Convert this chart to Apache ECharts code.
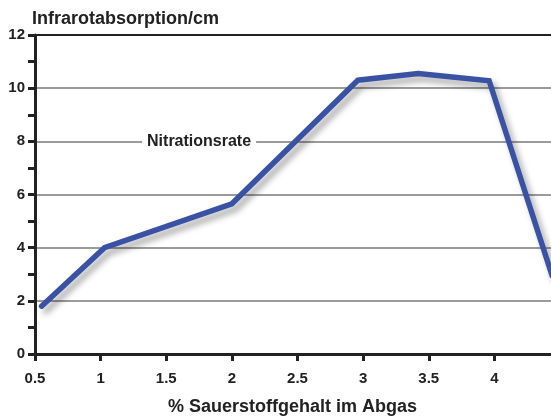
<!DOCTYPE html>
<html>
<head>
<meta charset="utf-8">
<script src="https://cdn.jsdelivr.net/npm/echarts@6/dist/echarts.min.js"></script>
<style>
  html, body { margin: 0; padding: 0; background: #fff; }
  #chart { width: 551px; height: 419px; }
</style>
</head>
<body>
<div id="chart"></div>
<script>
// Sauerstoffgehalt (%) vs. Infrarotabsorption
const oxygen = [0.55, 1.03, 2.0, 2.96, 3.42, 3.96, 4.44]
const absorption = [1.8, 4.0, 5.65, 10.3, 10.55, 10.28, 2.95]
const seriesName = 'Nitrationsrate'
const yTitle = 'Infrarotabsorption/cm'
const xTitle = '% Sauerstoffgehalt im Abgas'

const font = 'Liberation Sans, Arial, Helvetica, sans-serif'
const axisColor = '#222'

const chart = echarts.init(document.getElementById('chart'))

chart.setOption({
  backgroundColor: '#fff',
  animation: false,
  grid: {
    left: 35,
    top: 35,
    bottom: 65,
    width: 525,
    outerBoundsMode: 'none'
  },
  xAxis: [
    {
      type: 'value',
      min: 0.5,
      max: 4.5,
      interval: 0.5,
      name: xTitle,
      nameLocation: 'middle',
      nameGap: 44,
      nameTextStyle: { fontFamily: font, fontSize: 18, fontWeight: 'bold', color: '#222', padding: [0, 0, 0, -10] },
      axisLine: { lineStyle: { color: axisColor, width: 3 } },
      axisTick: { inside: false, length: 7, lineStyle: { color: axisColor, width: 3 } },
      axisLabel: {
        margin: 17,
        fontFamily: font,
        fontSize: 15,
        fontWeight: 'bold',
        color: '#222',
        showMaxLabel: false,
        formatter: v => (v >= 4.49 ? '' : String(v))
      },
      splitLine: { show: false }
    },
    {
      type: 'value',
      position: 'top',
      min: 0.5,
      max: 4.5,
      axisLine: { show: true, lineStyle: { color: axisColor, width: 2 } },
      axisTick: { show: false },
      axisLabel: { show: false },
      splitLine: { show: false }
    }
  ],
  yAxis: {
    type: 'value',
    min: 0,
    max: 12,
    interval: 2,
    name: yTitle,
    nameLocation: 'end',
    nameGap: 7,
    nameTextStyle: { fontFamily: font, fontSize: 18, fontWeight: 'bold', color: '#222', align: 'left', padding: [0, 0, 0, -3] },
    axisLine: { show: true, lineStyle: { color: axisColor, width: 3 } },
    axisTick: { length: 7, lineStyle: { color: axisColor, width: 3 } },
    minorTick: { show: true, splitNumber: 2, length: 7, lineStyle: { color: axisColor, width: 3 } },
    axisLabel: { margin: 10, fontFamily: font, fontSize: 15, fontWeight: 'bold', color: '#222' },
    splitLine: { lineStyle: { color: '#7a7a7a', width: 1.5 } }
  },
  series: [
    {
      name: seriesName,
      type: 'line',
      data: oxygen.map((x, i) => [x, absorption[i]]),
      symbol: 'none',
      clip: true,
      lineStyle: {
        color: '#3a52a3',
        width: 5.5,
        cap: 'round',
        join: 'miter',
        shadowColor: 'rgba(0,0,0,0.35)',
        shadowBlur: 6,
        shadowOffsetX: 4,
        shadowOffsetY: 5
      },
      markPoint: {
        symbol: 'rect',
        symbolSize: 0,
        silent: true,
        data: [{ coord: [1.75, 8] }],
        label: {
          show: true,
          position: 'inside',
          formatter: seriesName,
          fontFamily: font,
          fontSize: 16,
          fontWeight: 'bold',
          color: '#222',
          backgroundColor: '#fff',
          padding: [2, 5]
        }
      }
    }
  ]
})
</script>
</body>
</html>
